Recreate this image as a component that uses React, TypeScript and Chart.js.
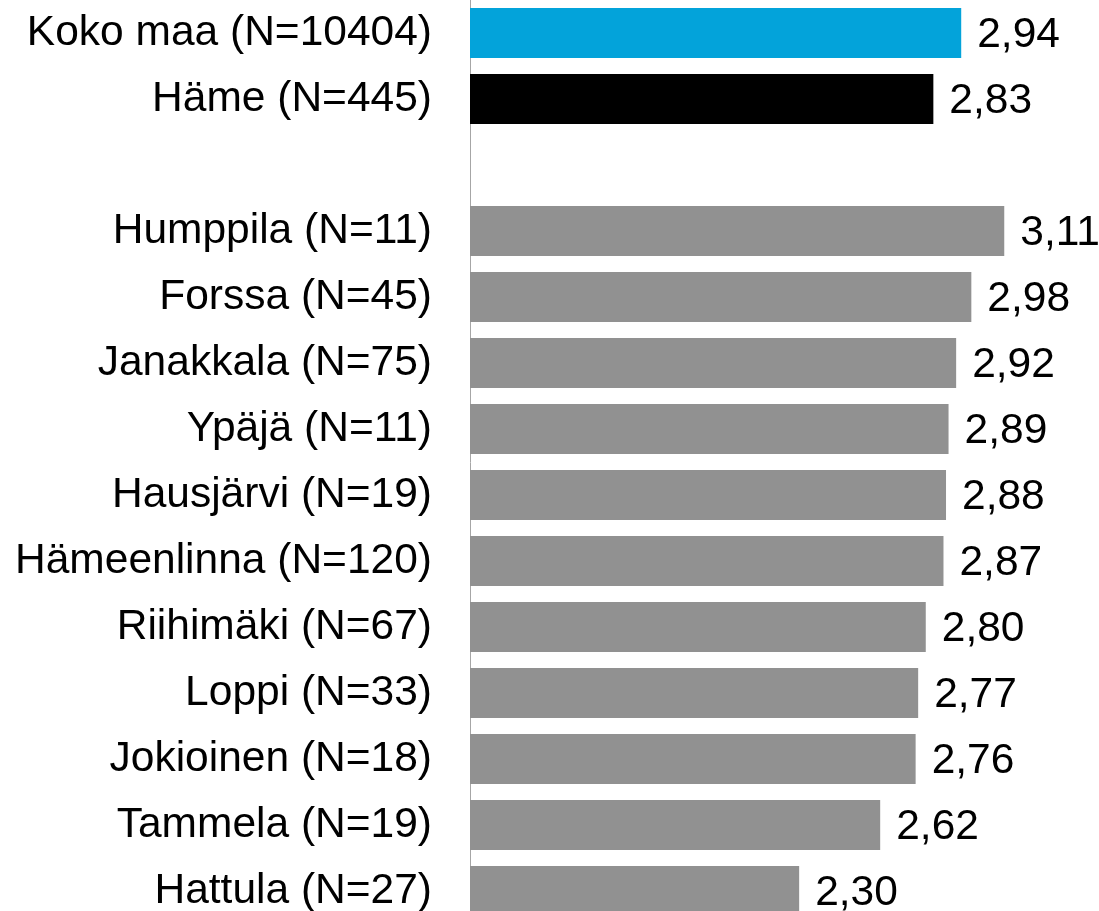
import React, { useEffect, useRef } from "react";
import { Chart, registerables } from "chart.js";

Chart.register(...registerables);

const categories = [
  "Koko maa (N=10404)",
  "Häme (N=445)",
  "",
  "Humppila (N=11)",
  "Forssa (N=45)",
  "Janakkala (N=75)",
  "Ypäjä (N=11)",
  "Hausjärvi (N=19)",
  "Hämeenlinna (N=120)",
  "Riihimäki (N=67)",
  "Loppi (N=33)",
  "Jokioinen (N=18)",
  "Tammela (N=19)",
  "Hattula (N=27)",
];

const values: (number | null)[] = [
  2.94, 2.83, null, 3.11, 2.98, 2.92, 2.89, 2.88, 2.87, 2.8, 2.77, 2.76, 2.62, 2.3,
];

const barColors = [
  "#03A3DA",
  "#000000",
  "rgba(0,0,0,0)",
  "#919191",
  "#919191",
  "#919191",
  "#919191",
  "#919191",
  "#919191",
  "#919191",
  "#919191",
  "#919191",
  "#919191",
  "#919191",
];

const FONT = '"Liberation Sans", Arial, sans-serif';
const FONT_SIZE = 42.5;

const valueLabels = {
  id: "valueLabels",
  afterDatasetsDraw(chart: any) {
    const ctx = chart.ctx;
    const meta = chart.getDatasetMeta(0);
    ctx.save();
    ctx.font = `${FONT_SIZE}px ${FONT}`;
    ctx.fillStyle = "#000000";
    ctx.textAlign = "left";
    ctx.textBaseline = "middle";
    meta.data.forEach((el: any, i: number) => {
      const v = values[i];
      if (v === null || v === undefined) return;
      ctx.fillText(v.toFixed(2).replace(".", ","), el.x + 16, el.y + 2);
    });
    ctx.restore();
  },
};

export default function App() {
  const ref = useRef<HTMLCanvasElement>(null);
  useEffect(() => {
    if (!ref.current) return;
    const chart = new Chart(ref.current, {
      type: "bar",
      data: {
        labels: categories,
        datasets: [
          {
            data: values as any,
            backgroundColor: barColors,
            borderWidth: 0,
            categoryPercentage: 1,
            barPercentage: 0.76,
          },
        ],
      },
      options: {
        indexAxis: "y",
        responsive: false,
        animation: false,
        devicePixelRatio: 1,
        layout: { padding: 0 },
        plugins: {
          legend: { display: false },
          tooltip: { enabled: false },
          title: { display: false },
        },
        scales: {
          x: {
            display: false,
            min: 1,
            max: 3.5,
          },
          y: {
            grid: { display: false, drawTicks: false },
            border: { display: true, color: "#A6A6A6", width: 1 },
            ticks: {
              autoSkip: false,
              padding: 38,
              color: "#000000",
              font: { family: FONT, size: FONT_SIZE },
            },
            afterFit(scale: any) {
              scale.width = 470;
              scale.paddingTop = 0;
              scale.paddingBottom = 0;
            },
          },
        },
      },
      plugins: [valueLabels],
    });
    return () => chart.destroy();
  }, []);
  return (
    <div
      style={{
        position: "fixed",
        left: 0,
        top: 0,
        width: 1099,
        height: 911,
        overflow: "hidden",
        background: "#ffffff",
      }}
    >
      <canvas ref={ref} width={1103} height={924} style={{ display: "block" }} />
    </div>
  );
}
